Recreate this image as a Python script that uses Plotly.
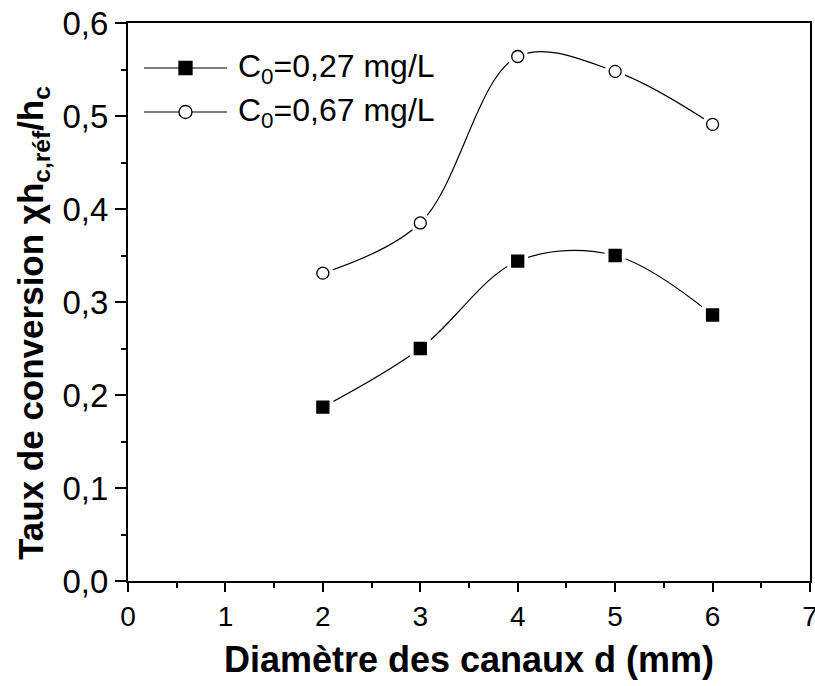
import plotly.graph_objects as go

# Channel diameter (mm)
diametre = [2, 3, 4, 5, 6]
# Conversion ratio for the two initial concentrations
taux_027 = [0.187, 0.250, 0.344, 0.350, 0.286]
taux_067 = [0.331, 0.385, 0.564, 0.548, 0.491]

noms = ["C<sub>0</sub>=0,27 mg/L", "C<sub>0</sub>=0,67 mg/L"]
symboles = ["square", "circle"]
remplissages = ["black", "white"]
series = [taux_027, taux_067]

FONT = "Liberation Sans, Arial, sans-serif"
fig = go.Figure()

for y, sym, fill in zip(series, symboles, remplissages):
    # smooth connecting curve
    fig.add_trace(go.Scatter(x=diametre, y=y, mode="lines",
                             line=dict(color="black", width=1.2, shape="spline", smoothing=1),
                             showlegend=False, hoverinfo="skip"))
    # white halo leaves a small gap between curve and symbol
    fig.add_trace(go.Scatter(x=diametre, y=y, mode="markers",
                             marker=dict(symbol=sym, size=21, color="white", line=dict(width=0)),
                             showlegend=False, hoverinfo="skip"))
    fig.add_trace(go.Scatter(x=diametre, y=y, mode="markers",
                             marker=dict(symbol=sym, size=12, color=fill,
                                         line=dict(color="black", width=1.3)),
                             showlegend=False))

# hand-drawn legend (paper coordinates)
L, R, T, B = 128, 810, 23, 581
def px(x):
    return (x - L) / (R - L)
def py(y):
    return (B - y) / (B - T)

shapes = []
annotations = []
for i, (nom, sym, fill) in enumerate(zip(noms, symboles, remplissages)):
    yy = py(68 + 44 * i)
    shapes.append(dict(type="line", xref="paper", yref="paper",
                       x0=px(144), x1=px(227), y0=yy, y1=yy,
                       line=dict(color="black", width=1.2)))
    shapes.append(dict(type="rect" if sym == "square" else "circle",
                       xref="paper", yref="paper",
                       xsizemode="pixel", ysizemode="pixel",
                       xanchor=px(185.5), yanchor=yy,
                       x0=-6.5, x1=6.5, y0=-6.5, y1=6.5,
                       fillcolor=fill, line=dict(color="black", width=1.3), layer="above"))
    annotations.append(dict(xref="paper", yref="paper", x=px(236), y=yy,
                            xanchor="left", yanchor="middle", showarrow=False,
                            text=nom, font=dict(family=FONT, size=32, color="black")))

# vertical axis title
annotations.append(dict(xref="paper", yref="paper", x=px(33), y=py(323),
                        xanchor="center", yanchor="middle", showarrow=False, textangle=-90,
                        text="Taux de conversion χh<sub>c,réf</sub>/h<sub>c</sub>",
                        font=dict(family=FONT, size=35, color="black", weight="bold")))

fig.update_layout(
    width=815, height=686,
    margin=dict(l=L, r=815 - R, t=T, b=686 - B),
    paper_bgcolor="white", plot_bgcolor="white",
    separators=",.",
    showlegend=False,
    shapes=shapes, annotations=annotations,
    font=dict(family=FONT, color="black"),
)

fig.update_xaxes(
    range=[0, 7], dtick=1, tick0=0, automargin=False,
    showgrid=False, zeroline=False,
    showline=True, linecolor="black", linewidth=2, mirror=True,
    ticks="outside", ticklen=9, tickwidth=2, tickcolor="black",
    minor=dict(dtick=0.5, ticks="outside", ticklen=5, tickwidth=2, tickcolor="black"),
    tickfont=dict(family=FONT, size=28, color="black"),
    ticklabeloverflow="allow",
    title=dict(text="Diamètre des canaux d (mm)", standoff=16,
               font=dict(family=FONT, size=36, color="black", weight="bold")),
)
fig.update_yaxes(
    range=[0, 0.6], dtick=0.1, tick0=0, tickformat=".1f", automargin=False,
    showgrid=False, zeroline=False,
    showline=True, linecolor="black", linewidth=2, mirror=True,
    ticks="outside", ticklen=11, tickwidth=2, tickcolor="black",
    minor=dict(dtick=0.05, ticks="outside", ticklen=5, tickwidth=2, tickcolor="black"),
    tickfont=dict(family=FONT, size=33, color="black"),
)

fig.write_html("out.html")
